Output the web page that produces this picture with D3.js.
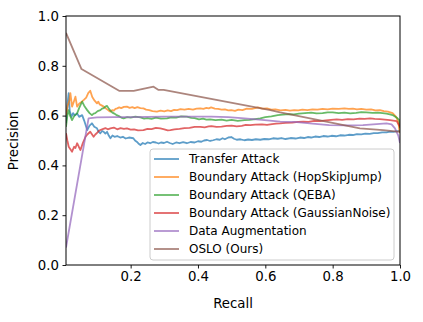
<!DOCTYPE html>
<html>
<head>
<meta charset="utf-8">
<script src="https://cdn.jsdelivr.net/npm/d3@7"></script>
<style>
  body { margin: 0; background: #fff; }
  svg { display: block; font-family: "DejaVu Sans", sans-serif; }
</style>
</head>
<body>
<svg id="chart" width="423" height="322"></svg>
<script>
// series data: [recall, precision] pairs
const transferAttack = [
  [0.008, 0.57], [0.012, 0.64], [0.016, 0.69], [0.019, 0.62], [0.024, 0.595], [0.029, 0.61],
  [0.034, 0.60], [0.041, 0.609], [0.047, 0.595], [0.056, 0.602], [0.062, 0.58], [0.071, 0.542],
  [0.078, 0.56], [0.085, 0.569], [0.092, 0.555], [0.100, 0.549], [0.105, 0.535], [0.110, 0.529],
  [0.115, 0.538], [0.120, 0.535], [0.125, 0.528], [0.130, 0.535], [0.135, 0.52], [0.140, 0.509],
  [0.146, 0.52], [0.152, 0.515], [0.160, 0.518], [0.169, 0.512], [0.177, 0.515], [0.185, 0.508],
  [0.195, 0.512], [0.208, 0.509], [0.213, 0.5], [0.218, 0.495], [0.223, 0.488], [0.229, 0.482],
  [0.236, 0.49], [0.243, 0.486], [0.250, 0.492], [0.258, 0.489], [0.266, 0.494], [0.275, 0.492],
  [0.283, 0.488], [0.290, 0.492], [0.299, 0.49], [0.308, 0.495], [0.316, 0.49], [0.325, 0.486],
  [0.335, 0.492], [0.345, 0.489], [0.356, 0.493], [0.367, 0.489], [0.378, 0.494], [0.390, 0.492],
  [0.400, 0.497], [0.410, 0.495], [0.418, 0.5], [0.427, 0.502], [0.436, 0.498], [0.445, 0.501],
  [0.455, 0.505], [0.465, 0.503], [0.473, 0.509], [0.480, 0.505], [0.490, 0.512], [0.499, 0.514],
  [0.507, 0.507], [0.515, 0.503], [0.526, 0.505], [0.538, 0.501], [0.549, 0.504], [0.560, 0.502],
  [0.572, 0.505], [0.585, 0.503], [0.597, 0.506], [0.610, 0.505], [0.623, 0.509], [0.637, 0.507],
  [0.648, 0.51], [0.660, 0.506], [0.675, 0.51], [0.690, 0.508], [0.703, 0.512], [0.715, 0.51],
  [0.726, 0.514], [0.736, 0.512], [0.748, 0.516], [0.760, 0.514], [0.772, 0.518], [0.785, 0.516],
  [0.797, 0.519], [0.810, 0.517], [0.822, 0.521], [0.835, 0.52], [0.848, 0.523], [0.860, 0.522],
  [0.872, 0.526], [0.885, 0.525], [0.897, 0.528], [0.910, 0.527], [0.922, 0.53], [0.934, 0.53],
  [0.947, 0.533], [0.960, 0.533], [0.970, 0.536], [0.980, 0.535], [0.993, 0.538], [1.0, 0.54]
];
const hopSkipJump = [
  [0.008, 0.60], [0.013, 0.64], [0.018, 0.66], [0.021, 0.69], [0.026, 0.636], [0.031, 0.655],
  [0.036, 0.676], [0.041, 0.636], [0.047, 0.648], [0.054, 0.655], [0.061, 0.663], [0.068, 0.672],
  [0.074, 0.69], [0.080, 0.70], [0.086, 0.675], [0.093, 0.66], [0.100, 0.649], [0.104, 0.656],
  [0.108, 0.645], [0.115, 0.64], [0.120, 0.636], [0.125, 0.63], [0.130, 0.625], [0.135, 0.62],
  [0.140, 0.616], [0.145, 0.622], [0.150, 0.62], [0.155, 0.627], [0.160, 0.629], [0.166, 0.633],
  [0.172, 0.63], [0.180, 0.635], [0.189, 0.636], [0.197, 0.631], [0.205, 0.634], [0.212, 0.63],
  [0.220, 0.634], [0.229, 0.63], [0.238, 0.629], [0.246, 0.624], [0.255, 0.622], [0.265, 0.618],
  [0.278, 0.616], [0.289, 0.62], [0.300, 0.617], [0.310, 0.621], [0.320, 0.618], [0.329, 0.623],
  [0.338, 0.622], [0.348, 0.626], [0.360, 0.624], [0.372, 0.627], [0.385, 0.624], [0.396, 0.628],
  [0.407, 0.629], [0.416, 0.627], [0.425, 0.631], [0.432, 0.629], [0.439, 0.633], [0.450, 0.628],
  [0.460, 0.627], [0.470, 0.624], [0.480, 0.625], [0.490, 0.621], [0.499, 0.622], [0.510, 0.619],
  [0.520, 0.624], [0.532, 0.622], [0.545, 0.628], [0.560, 0.627], [0.578, 0.633], [0.591, 0.628],
  [0.605, 0.629], [0.618, 0.624], [0.630, 0.625], [0.645, 0.621], [0.660, 0.623], [0.673, 0.62],
  [0.686, 0.622], [0.698, 0.621], [0.710, 0.624], [0.725, 0.622], [0.740, 0.625], [0.755, 0.624],
  [0.770, 0.627], [0.785, 0.625], [0.800, 0.628], [0.818, 0.627], [0.835, 0.629], [0.848, 0.627],
  [0.860, 0.628], [0.872, 0.625], [0.885, 0.627], [0.900, 0.624], [0.914, 0.625], [0.927, 0.621],
  [0.940, 0.622], [0.952, 0.618], [0.964, 0.616], [0.978, 0.61], [0.988, 0.596], [0.995, 0.575],
  [0.998, 0.542], [1.0, 0.53]
];
const qeba = [
  [0.008, 0.555], [0.012, 0.60], [0.016, 0.622], [0.020, 0.60], [0.026, 0.582], [0.033, 0.60],
  [0.041, 0.609], [0.047, 0.63], [0.052, 0.645], [0.056, 0.656], [0.062, 0.64], [0.066, 0.632],
  [0.071, 0.622], [0.078, 0.61], [0.085, 0.602], [0.090, 0.608], [0.095, 0.61], [0.102, 0.618],
  [0.110, 0.622], [0.115, 0.628], [0.120, 0.63], [0.125, 0.636], [0.130, 0.639], [0.135, 0.628],
  [0.140, 0.62], [0.145, 0.613], [0.150, 0.609], [0.157, 0.603], [0.165, 0.598], [0.172, 0.592],
  [0.179, 0.589], [0.190, 0.594], [0.200, 0.592], [0.214, 0.596], [0.229, 0.593], [0.240, 0.588],
  [0.250, 0.59], [0.262, 0.587], [0.275, 0.592], [0.290, 0.588], [0.308, 0.589], [0.320, 0.593],
  [0.335, 0.592], [0.350, 0.597], [0.367, 0.596], [0.380, 0.591], [0.390, 0.59], [0.403, 0.585],
  [0.415, 0.588], [0.425, 0.584], [0.436, 0.585], [0.452, 0.582], [0.470, 0.584], [0.485, 0.58],
  [0.500, 0.583], [0.518, 0.579], [0.538, 0.582], [0.553, 0.583], [0.570, 0.586], [0.585, 0.589],
  [0.600, 0.594], [0.618, 0.597], [0.637, 0.602], [0.652, 0.604], [0.670, 0.606], [0.685, 0.605],
  [0.700, 0.608], [0.718, 0.61], [0.736, 0.612], [0.752, 0.609], [0.770, 0.61], [0.785, 0.613],
  [0.800, 0.613], [0.818, 0.61], [0.835, 0.612], [0.852, 0.609], [0.870, 0.611], [0.885, 0.614],
  [0.900, 0.613], [0.918, 0.611], [0.934, 0.612], [0.948, 0.61], [0.960, 0.608], [0.970, 0.605],
  [0.978, 0.602], [0.992, 0.59], [0.998, 0.582], [1.0, 0.55]
];
const gaussianNoise = [
  [0.008, 0.529], [0.012, 0.50], [0.016, 0.475], [0.021, 0.465], [0.026, 0.455], [0.032, 0.475],
  [0.036, 0.47], [0.041, 0.489], [0.046, 0.475], [0.051, 0.462], [0.058, 0.49], [0.066, 0.515],
  [0.072, 0.525], [0.080, 0.535], [0.085, 0.525], [0.090, 0.515], [0.095, 0.524], [0.100, 0.53],
  [0.105, 0.538], [0.110, 0.542], [0.117, 0.546], [0.125, 0.55], [0.132, 0.545], [0.140, 0.549],
  [0.150, 0.552], [0.160, 0.545], [0.170, 0.55], [0.180, 0.547], [0.189, 0.549], [0.200, 0.544],
  [0.210, 0.545], [0.222, 0.541], [0.238, 0.542], [0.250, 0.547], [0.262, 0.546], [0.275, 0.551],
  [0.288, 0.549], [0.300, 0.545], [0.310, 0.541], [0.318, 0.542], [0.330, 0.545], [0.345, 0.547],
  [0.360, 0.55], [0.375, 0.551], [0.390, 0.555], [0.407, 0.555], [0.420, 0.553], [0.432, 0.557],
  [0.440, 0.558], [0.455, 0.555], [0.470, 0.556], [0.485, 0.559], [0.500, 0.56], [0.515, 0.557],
  [0.530, 0.559], [0.542, 0.563], [0.555, 0.562], [0.570, 0.564], [0.590, 0.565], [0.605, 0.563],
  [0.620, 0.566], [0.632, 0.568], [0.644, 0.569], [0.660, 0.571], [0.680, 0.572], [0.697, 0.575],
  [0.713, 0.576], [0.728, 0.575], [0.745, 0.579], [0.762, 0.578], [0.780, 0.581], [0.795, 0.583],
  [0.812, 0.585], [0.828, 0.583], [0.845, 0.586], [0.862, 0.585], [0.880, 0.588], [0.895, 0.587],
  [0.911, 0.589], [0.925, 0.587], [0.940, 0.586], [0.955, 0.584], [0.970, 0.582], [0.990, 0.578],
  [1.0, 0.555]
];
const dataAugmentation = [
  [0.008, 0.07], [0.075, 0.589], [0.100, 0.593], [0.150, 0.594], [0.200, 0.594], [0.250, 0.595],
  [0.300, 0.596], [0.350, 0.596], [0.400, 0.596], [0.440, 0.596], [0.490, 0.594], [0.538, 0.589],
  [0.590, 0.583], [0.644, 0.576], [0.686, 0.575], [0.740, 0.568], [0.790, 0.562], [0.840, 0.561],
  [0.890, 0.562], [0.930, 0.566], [0.960, 0.569], [0.975, 0.565], [0.985, 0.549], [0.995, 0.52],
  [1.0, 0.49]
];
const oslo = [
  [0.008, 0.932], [0.054, 0.787], [0.167, 0.699], [0.209, 0.699], [0.268, 0.716], [0.283, 0.703],
  [0.298, 0.703], [0.615, 0.622], [0.644, 0.613], [0.881, 0.549], [0.950, 0.542], [1.0, 0.535]
];

const seriesNames = [
  "Transfer Attack",
  "Boundary Attack (HopSkipJump)",
  "Boundary Attack (QEBA)",
  "Boundary Attack (GaussianNoise)",
  "Data Augmentation",
  "OSLO (Ours)"
];
const seriesData = [transferAttack, hopSkipJump, qeba, gaussianNoise, dataAugmentation, oslo];
const seriesColors = ["#1f77b4", "#ff7f0e", "#2ca02c", "#d62728", "#9467bd", "#8c564b"];

const xTicks = [0.2, 0.4, 0.6, 0.8, 1.0];
const yTicks = [0.0, 0.2, 0.4, 0.6, 0.8, 1.0];

const margin = { top: 16, right: 23, bottom: 57, left: 66 };
const width = 423 - margin.left - margin.right;
const height = 322 - margin.top - margin.bottom;

const svg = d3.select("#chart");

const x = d3.scaleLinear().domain([0.008, 1.0]).range([0, width]);
const y = d3.scaleLinear().domain([0, 1]).range([height, 0]);

const g = svg.append("g")
  .attr("transform", `translate(${margin.left}, ${margin.top})`);

g.append("clipPath").attr("id", "clip")
  .append("rect").attr("width", width).attr("height", height);

// lines
const line = d3.line().x(d => x(d[0])).y(d => y(d[1]));
g.append("g").attr("clip-path", "url(#clip)")
  .selectAll("path")
  .data(seriesData)
  .join("path")
  .attr("d", line)
  .style("fill", "none")
  .style("stroke", (d, i) => seriesColors[i])
  .style("stroke-opacity", 0.72)
  .style("stroke-width", 1.8)
  .style("stroke-linejoin", "round");

// axes
const xAxis = g.append("g")
  .attr("transform", `translate(0, ${height})`)
  .call(d3.axisBottom(x).tickValues(xTicks).tickFormat(d3.format(".1f")).tickSize(3.5).tickSizeOuter(0).tickPadding(3.5));
const yAxis = g.append("g")
  .call(d3.axisLeft(y).tickValues(yTicks).tickFormat(d3.format(".1f")).tickSize(3.5).tickSizeOuter(0).tickPadding(3.5));

[xAxis, yAxis].forEach(ax => {
  ax.select(".domain").remove();
  ax.selectAll("line").style("stroke", "#000").style("stroke-width", 0.9);
  ax.selectAll("text").style("font-size", "13.3px").style("fill", "#000")
    .style("font-family", "DejaVu Sans");
});

// frame
g.append("rect")
  .attr("width", width).attr("height", height)
  .style("fill", "none").style("stroke", "#000").style("stroke-width", 1);

// axis labels
g.append("text")
  .attr("x", width / 2).attr("y", height + 43)
  .attr("text-anchor", "middle")
  .style("font-size", "13.3px")
  .text("Recall");
g.append("text")
  .attr("transform", `translate(${-48}, ${height / 2}) rotate(-90)`)
  .attr("text-anchor", "middle")
  .style("font-size", "13.3px")
  .text("Precision");

// legend
const legend = g.append("g").attr("transform", `translate(${150 - margin.left}, ${149 - margin.top})`);
legend.append("rect")
  .attr("width", 244).attr("height", 111).attr("rx", 3)
  .style("fill", "#fff").style("fill-opacity", 0.8)
  .style("stroke", "#ccc").style("stroke-width", 1);

const rows = legend.selectAll("g.item")
  .data(seriesNames)
  .join("g")
  .attr("class", "item")
  .attr("transform", (d, i) => `translate(0, ${10 + i * 18})`);
rows.append("line")
  .attr("x1", 4).attr("x2", 29)
  .style("stroke", (d, i) => seriesColors[i])
  .style("stroke-opacity", 0.72)
  .style("stroke-width", 1.8);
rows.append("text")
  .attr("x", 39).attr("dy", "0.35em")
  .style("font-size", "12px")
  .text(d => d);
</script>
</body>
</html>
